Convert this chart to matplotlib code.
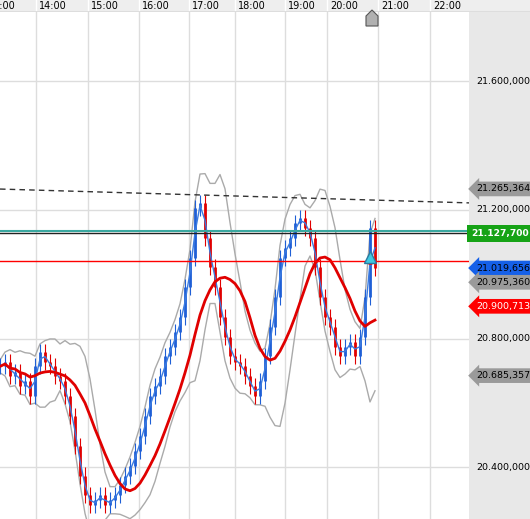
import numpy as np
import pandas as pd
import matplotlib
matplotlib.use("Agg")
import matplotlib.pyplot as plt

# closes sampled every 5 index units (x axis in chart units)
closes = [20714, 20729, 20683, 20698, 20652, 20668, 20622, 20714, 20760, 20729,
          20714, 20683, 20668, 20622, 20560, 20468, 20375, 20314, 20283, 20298,
          20314, 20283, 20298, 20314, 20345, 20375, 20406, 20452, 20498, 20560,
          20622, 20652, 20683, 20745, 20775, 20822, 20868, 20960, 21052, 21206,
          21222, 21114, 21022, 20960, 20868, 20806, 20745, 20729, 20714, 20683,
          20652, 20622, 20668, 20745, 20837, 20929, 21052, 21083, 21114, 21160,
          21175, 21145, 21114, 21022, 20929, 20868, 20837, 20775, 20745, 20775,
          20791, 20745, 20806, 20929, 21145, 21020]
hours = ["13:00", "14:00", "15:00", "16:00", "17:00", "18:00", "19:00", "20:00", "21:00", "22:00"]
hour_pos = [-15, 36, 88, 139, 189, 235, 285, 327, 378, 430]
y_ticks = [20400, 20800, 21200, 21600]
tag_vals = [21265.364, 21127.700, 21019.656, 20975.360, 20900.713, 20685.357]
tag_cols = ["#9a9a9a", "#16a316", "#1560e8", "#9a9a9a", "#ff0000", "#9a9a9a"]
tag_txt = ["black", "white", "black", "black", "white", "black"]
res_line = (21265, 21222)
teal_level, black_level, red_level = 21135, 21127.7, 21040

x = np.arange(len(closes)) * 5.0
c = pd.Series(closes, dtype=float)
o = c.shift(1).fillna(c.iloc[0])
mid = c.rolling(6, min_periods=1).mean()
sd = c.rolling(6, min_periods=1).std().fillna(0)
fast = c.rolling(2, min_periods=1).mean()
slow = c.rolling(11, min_periods=1).mean()

W, H = 530, 519
fig = plt.figure(figsize=(W / 100, H / 100), dpi=100)
ax = fig.add_axes([0, 0, 469 / W, 507 / H])
ax.set_xlim(0, 469)
ax.set_ylim(20240, 21815)
for p in hour_pos:
    ax.axvline(p, color="#dddddd", lw=1, zorder=0)
for t in y_ticks:
    ax.axhline(t, color="#dddddd", lw=1, zorder=0)

ax.plot(x, mid + 1.6 * sd + 20, color="#aaaaaa", lw=1)
ax.plot(x, mid - 1.6 * sd - 20, color="#aaaaaa", lw=1)
for xi, oi, ci in zip(x, o, c):
    col = "#1f5fd6" if ci >= oi else "#e00000"
    lo, hi = min(oi, ci), max(oi, ci)
    ax.vlines(xi, lo - 25, hi + 25, color=col, lw=0.8)
    ax.vlines(xi, lo, max(hi, lo + 3), color=col, lw=2)
ax.plot(x, fast, color="#3a7be0", lw=1)
ax.plot(x, slow, color="#e00000", lw=2)

ax.plot([0, 469], res_line, color="#333333", lw=1, ls=(0, (4, 3)))
ax.axhline(teal_level, color="#3aa8a0", lw=1.5)
ax.axhline(black_level, color="#222222", lw=1)
ax.axhline(red_level, color="#ff0000", lw=1)
ax.plot(x[-2], red_level, "o", color="#ff0000", ms=4)
ax.plot(x[-2], red_level + 15, "^", color="#40c8e0", mec="#2a7aa0", ms=9)
ax.set_xticks([])
ax.set_yticks([])
for s in ax.spines.values():
    s.set_visible(False)

# top time strip
top = fig.add_axes([0, 507 / H, 1, 12 / H])
top.set_xlim(0, W)
top.set_ylim(0, 1)
top.set_facecolor("#eeeeee")
for p, h in zip(hour_pos, hours):
    top.axvline(p, color="#ffffff", lw=1)
    top.text(p + 3, 0.5, h, fontsize=7, va="center", ha="left")
top.axhline(0, color="#dddddd", lw=1.5)
top.set_xticks([]); top.set_yticks([])
for s in top.spines.values():
    s.set_visible(False)
fig.patches.append(plt.Polygon([(366 / W, 493 / H), (378 / W, 493 / H), (378 / W, 503 / H),
                                (372 / W, 509 / H), (366 / W, 503 / H)],
                               closed=True, transform=fig.transFigure, fc="#b0b0b0", ec="#555555", lw=0.8))

# right price panel
rp = fig.add_axes([469 / W, 0, 61 / W, 507 / H])
rp.set_xlim(0, 1)
rp.set_ylim(ax.get_ylim())
rp.set_facecolor("#e8e8e8")
rp.set_xticks([]); rp.set_yticks([])
for s in rp.spines.values():
    s.set_visible(False)
for t in y_ticks:
    rp.text(0.12, t, f"{t // 1000}.{t % 1000:03d},000", fontsize=6.8, va="center")
for v, fc, tc in zip(tag_vals, tag_cols, tag_txt):
    whole = int(v)
    lbl = f"{whole // 1000}.{whole % 1000:03d},{round((v - whole) * 1000):03d}"
    if fc == "#16a316":
        rp.text(0.03, v, lbl, fontsize=6.6, va="center", color=tc, weight="bold",
                bbox=dict(boxstyle="square,pad=0.45", fc=fc, ec="none"))
    else:
        rp.text(0.12, v, lbl, fontsize=6.8, va="center", color=tc,
                bbox=dict(boxstyle="larrow,pad=0.3", fc=fc, ec="none"))

fig.savefig("out.png", dpi=100)
